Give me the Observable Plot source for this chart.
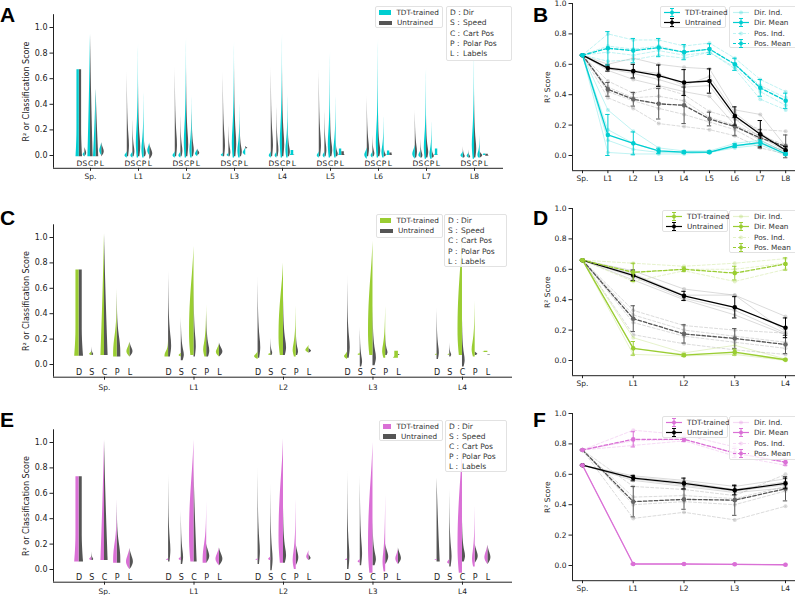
<!DOCTYPE html>
<html><head><meta charset="utf-8">
<script src="https://cdn.jsdelivr.net/npm/d3@7"></script>
<script src="https://cdn.jsdelivr.net/npm/@observablehq/plot@0.6"></script>
<style>
body{margin:0;background:#fff;font-family:"DejaVu Sans",sans-serif;}
#fig{position:relative;width:795px;height:595px;overflow:hidden;background:#fff;}
.panel{position:absolute;}
.panel svg{overflow:visible;}
.letter{position:absolute;font-weight:bold;font-size:21px;font-family:"Liberation Sans",Arial,sans-serif;line-height:1;color:#000;}
.leg{position:absolute;background:rgba(255,255,255,0.82);border:1px solid #e2e2e2;border-radius:2px;color:#333;box-sizing:border-box;white-space:nowrap;}
.leg .row{display:flex;align-items:center;}
</style></head><body><div id="fig"></div>
<script>
// ---------------- data ----------------
const layersA = ["Sp.","L1","L2","L3","L4","L5","L6","L7","L8"];
const layersCE = ["Sp.","L1","L2","L3","L4"];
const featureKeys = ["D","S","C","P","L"];
const featureNames = ["Dir","Speed","Cart Pos","Polar Pos","Labels"];

// relative violin density profiles (9 levels from low to high value)
const shapes = {
  spike: [0.5,1,0.6,0.35,0.2,0.12,0.07,0.03,0],
  wedge: [1,0.85,0.7,0.56,0.43,0.31,0.2,0.1,0],
  base:  [1,1,0.75,0.4,0.2,0.1,0.05,0.02,0],
  body:  [0.7,1,1,0.95,0.8,0.6,0.35,0.12,0],
  blob:  [0.05,0.55,0.9,1,0.85,0.6,0.35,0.15,0],
  rect:  [1.4,1.15,1,1,1,1,1,1,1]
};

// half violins: [low, high, relative width, profile] per layer, per feature D,S,C,P,L
const violinA_trained = [
  [[-0.01,0.67,0.9,"rect"],[-0.01,0.03,0.7,"blob"],[-0.01,0.95,1,"wedge"],[-0.01,0.52,1,"wedge"],[0,0.1,0.8,"blob"]],
  [[-0.02,0.03,0.9,"blob"],[-0.02,0.03,0.8,"blob"],[-0.02,0.875,1,"spike"],[-0.02,0.5,1,"spike"],[0,0.1,0.8,"blob"]],
  [[-0.02,0.03,0.9,"blob"],[-0.02,0.03,0.8,"blob"],[-0.02,0.92,1,"spike"],[-0.02,0.47,1,"spike"],[-0.01,0.05,0.9,"blob"]],
  [[-0.01,0.02,0.8,"blob"],[-0.01,0.02,0.7,"blob"],[-0.02,0.89,1,"spike"],[-0.02,0.41,1,"spike"],[0,0.06,1,"blob"]],
  [[-0.02,0.03,0.8,"blob"],[-0.02,0.03,0.7,"blob"],[-0.02,0.95,1,"spike"],[-0.02,0.48,1,"spike"],[0,0.04,1,"rect"]],
  [[-0.02,0.03,0.8,"blob"],[-0.02,0.03,0.7,"blob"],[-0.02,0.81,1,"spike"],[-0.02,0.47,1,"spike"],[0,0.05,0.9,"rect"]],
  [[-0.03,0.06,1,"blob"],[-0.02,0.03,0.7,"blob"],[-0.02,0.91,1,"spike"],[-0.02,0.31,1,"spike"],[0,0.035,0.9,"rect"]],
  [[-0.03,0.08,1,"blob"],[-0.02,0.04,0.8,"blob"],[-0.03,0.68,1,"spike"],[-0.03,0.27,1,"spike"],[0,0.05,0.9,"rect"]],
  [[-0.02,0.03,0.9,"blob"],[-0.02,0.02,0.7,"blob"],[-0.03,0.83,1,"spike"],[-0.02,0.16,1,"spike"],[0,0.012,0.8,"rect"]]
];
const violinA_untrained = [
  [[-0.01,0.67,0.9,"rect"],[-0.01,0.065,0.7,"blob"],[-0.01,0.95,1,"wedge"],[-0.01,0.52,1,"wedge"],[-0.01,0.1,1,"blob"]],
  [[-0.01,0.665,1,"spike"],[-0.01,0.30,0.9,"spike"],[-0.01,0.6,1,"spike"],[-0.01,0.2,1,"spike"],[-0.03,0.09,1.2,"blob"]],
  [[-0.01,0.70,1,"spike"],[-0.01,0.335,0.9,"spike"],[-0.01,0.72,1,"spike"],[-0.01,0.36,1,"spike"],[0,0.05,0.8,"blob"]],
  [[-0.01,0.66,1,"spike"],[-0.01,0.25,0.9,"spike"],[-0.01,0.75,1,"spike"],[-0.01,0.27,1,"spike"],[0.05,0.07,0.8,"blob"]],
  [[-0.01,0.70,1,"spike"],[-0.01,0.41,0.9,"spike"],[-0.01,0.72,1,"spike"],[-0.01,0.28,1,"spike"],[0,0.005,0.5,"blob"]],
  [[-0.01,0.68,1,"spike"],[-0.01,0.37,0.9,"spike"],[-0.01,0.37,1,"spike"],[-0.01,0.13,1,"spike"],[0,0.03,1,"rect"]],
  [[-0.01,0.47,1,"spike"],[-0.01,0.16,0.9,"spike"],[-0.01,0.35,1,"spike"],[-0.01,0.08,1,"spike"],[0,0.02,0.9,"rect"]],
  [[-0.02,0.36,1,"spike"],[-0.02,0.13,0.9,"spike"],[-0.02,0.32,1,"spike"],[-0.02,0.08,1,"spike"],[0,0.005,0.3,"blob"]],
  [[-0.02,0.07,0.9,"spike"],[-0.02,0.045,0.8,"spike"],[-0.02,0.53,1,"spike"],[-0.02,0.03,1,"blob"],[-0.005,0.01,1,"rect"]]
];
const violinC_trained = [
  [[0.065,0.745,0.7,"rect"],[0.07,0.10,0.5,"blob"],[0.07,1.03,0.8,"wedge"],[0.06,0.60,0.8,"base"],[0.06,0.175,0.7,"blob"]],
  [[0.06,0.2,0.8,"base"],[0.06,0.09,0.5,"blob"],[0.07,0.93,1,"body"],[0.06,0.47,0.8,"spike"],[0.06,0.16,0.7,"blob"]],
  [[0.04,0.10,0.8,"blob"],[0.07,0.09,0.5,"blob"],[0.07,0.80,1,"body"],[0.06,0.46,0.8,"spike"],[0.09,0.15,0.7,"blob"]],
  [[0.04,0.10,0.7,"blob"],[0.07,0.09,0.5,"blob"],[0.07,0.97,1,"body"],[0.05,0.46,0.8,"spike"],[0.05,0.105,0.8,"rect"]],
  [[0.07,0.085,0.4,"blob"],[0.07,0.085,0.4,"blob"],[0.07,1.02,1,"body"],[0.06,0.50,0.8,"spike"],[0.095,0.105,0.8,"rect"]]
];
const violinC_untrained = [
  [[0.065,0.745,0.7,"rect"],[0.07,0.14,0.5,"spike"],[0.07,1.03,0.8,"wedge"],[0.06,0.60,0.8,"base"],[0.06,0.175,0.7,"blob"]],
  [[0.06,0.735,0.8,"spike"],[0.03,0.37,0.8,"spike"],[0.06,0.70,0.6,"spike"],[0.06,0.42,0.8,"spike"],[0.06,0.17,0.8,"blob"]],
  [[0.05,0.69,0.7,"spike"],[0.07,0.21,0.5,"spike"],[0.07,0.55,0.8,"spike"],[0.07,0.30,0.6,"spike"],[0.09,0.13,0.6,"blob"]],
  [[0.05,0.70,0.7,"spike"],[-0.02,0.30,0.6,"spike"],[-0.01,0.46,0.9,"spike"],[0.07,0.25,0.6,"spike"],[0.07,0.08,0.4,"blob"]],
  [[0.04,0.45,0.6,"spike"],[0.06,0.17,0.5,"spike"],[-0.02,0.38,0.7,"spike"],[0.07,0.10,0.6,"blob"],[0.073,0.077,0.5,"rect"]]
];
const violinE_trained = [
  [[0.06,0.73,0.7,"rect"],[0.07,0.10,0.5,"blob"],[0.07,1.02,0.8,"wedge"],[0.05,0.555,0.8,"base"],[0.0,0.165,0.8,"blob"]],
  [[0.07,0.085,0.5,"blob"],[0.07,0.10,0.5,"blob"],[0.06,1.02,1,"body"],[0.05,0.54,0.8,"base"],[0.03,0.17,0.8,"blob"]],
  [[0.07,0.085,0.5,"blob"],[0.07,0.10,0.5,"blob"],[0.05,1.03,1,"body"],[0.0,0.55,0.8,"spike"],[0.07,0.15,0.5,"blob"]],
  [[0.07,0.085,0.5,"blob"],[0.05,0.08,0.5,"blob"],[-0.03,1.0,1,"body"],[-0.02,0.59,0.7,"spike"],[0.04,0.16,0.6,"blob"]],
  [[0.07,0.08,0.5,"blob"],[0.04,0.08,0.5,"blob"],[-0.03,0.98,1,"body"],[0.02,0.50,0.7,"spike"],[0.04,0.19,0.7,"blob"]]
];
const violinE_untrained = [
  [[0.06,0.73,0.7,"rect"],[0.07,0.14,0.5,"spike"],[0.07,1.02,0.8,"wedge"],[0.05,0.555,0.8,"base"],[0.0,0.165,0.8,"blob"]],
  [[0.06,0.76,0.6,"spike"],[0.04,0.47,0.6,"spike"],[0.06,0.80,0.7,"wedge"],[0.05,0.2,0.7,"blob"],[0.03,0.17,0.8,"blob"]],
  [[0.04,0.80,0.6,"spike"],[-0.01,0.67,0.6,"spike"],[0.05,0.5,0.8,"spike"],[0.03,0.2,0.6,"blob"],[0.07,0.12,0.5,"blob"]],
  [[0.0,0.79,0.6,"spike"],[0.03,0.75,0.6,"spike"],[0.03,0.40,0.9,"spike"],[0.04,0.2,0.7,"blob"],[0.04,0.17,0.7,"blob"]],
  [[0.06,0.72,0.7,"wedge"],[0.02,0.64,0.6,"spike"],[0.06,0.40,0.8,"spike"],[0.05,0.2,0.7,"blob"],[0.04,0.19,0.7,"blob"]]
];

// line panels: means and error half-widths
const B_trainedDir = [0.66,0.135,0.08,0.03,0.022,0.022,0.065,0.085,0.01];
const B_trainedDirErr = [0,0.135,0.075,0.018,0.008,0.008,0.012,0.018,0.008];
const B_trainedPos = [0.66,0.705,0.69,0.71,0.68,0.70,0.60,0.445,0.36];
const B_trainedPosErr = [0,0.11,0.08,0.06,0.05,0.035,0.04,0.055,0.05];
const B_untrainedDir = [0.66,0.575,0.555,0.525,0.48,0.49,0.26,0.14,0.035];
const B_untrainedDirErr = [0,0.02,0.045,0.07,0.085,0.08,0.06,0.09,0.025];
const B_untrainedPos = [0.66,0.435,0.37,0.34,0.33,0.24,0.19,0.115,0.06];
const B_untrainedPosErr = [0,0.045,0.045,0.1,0.12,0.045,0.06,0.055,0.075];
const B_trainedDirInd = [
  [0.66,0.30,0.16,0.05,0.03,0.03,0.08,0.10,0.02],
  [0.66,0.17,0.08,0.03,0.02,0.02,0.06,0.09,0.01],
  [0.66,0.10,0.04,0.02,0.02,0.02,0.06,0.08,0.01],
  [0.66,0.02,0.01,0.01,0.01,0.02,0.05,0.07,0.0]];
const B_trainedPosInd = [
  [0.66,0.80,0.76,0.76,0.72,0.74,0.64,0.50,0.42],
  [0.66,0.72,0.70,0.72,0.68,0.70,0.60,0.46,0.38],
  [0.66,0.68,0.66,0.69,0.66,0.68,0.58,0.42,0.33],
  [0.66,0.62,0.63,0.66,0.64,0.68,0.57,0.37,0.30]];
const B_untrainedDirInd = [
  [0.66,0.60,0.64,0.60,0.58,0.57,0.30,0.27,0.06],
  [0.66,0.58,0.56,0.54,0.46,0.52,0.28,0.15,0.04],
  [0.66,0.57,0.54,0.50,0.45,0.46,0.24,0.12,0.03],
  [0.66,0.56,0.50,0.46,0.42,0.39,0.20,0.10,0.02]];
const B_untrainedPosInd = [
  [0.66,0.49,0.41,0.45,0.40,0.29,0.24,0.17,0.16],
  [0.66,0.45,0.38,0.39,0.36,0.25,0.20,0.13,0.07],
  [0.66,0.42,0.36,0.31,0.27,0.22,0.17,0.08,0.03],
  [0.66,0.38,0.31,0.21,0.19,0.17,0.13,0.05,0.01]];

const D_trainedDir = [0.66,0.08,0.035,0.055,0.005];
const D_trainedDirErr = [0,0.045,0.008,0.02,0.005];
const D_trainedPos = [0.66,0.58,0.60,0.575,0.635];
const D_trainedPosErr = [0,0.06,0.015,0.045,0.04];
const D_untrainedDir = [0.66,0.56,0.425,0.35,0.215];
const D_untrainedDirErr = [0,0.035,0.03,0.07,0.065];
const D_untrainedPos = [0.66,0.275,0.175,0.145,0.105];
const D_untrainedPosErr = [0,0.085,0.06,0.065,0.06];
const D_trainedDirInd = [[0.66,0.15,0.05,0.10,0.01],[0.66,0.08,0.04,0.05,0.005],[0.66,0.04,0.03,0.04,0.0]];
const D_trainedPosInd = [[0.66,0.64,0.62,0.64,0.67],[0.66,0.58,0.60,0.60,0.64],[0.66,0.52,0.59,0.52,0.60]];
const D_untrainedDirInd = [[0.66,0.59,0.47,0.43,0.29],[0.66,0.57,0.43,0.43,0.19],[0.66,0.55,0.41,0.33,0.18],[0.66,0.53,0.40,0.30,0.17]];
const D_untrainedPosInd = [[0.66,0.33,0.23,0.20,0.18],[0.66,0.30,0.20,0.16,0.12],[0.66,0.25,0.16,0.12,0.08],[0.66,0.17,0.11,0.07,0.04]];

const F_trainedDir = [0.66,0.01,0.01,0.008,0.005];
const F_trainedDirErr = [0,0.004,0.003,0.003,0.002];
const F_trainedPos = [0.76,0.83,0.83,0.74,0.68];
const F_trainedPosErr = [0,0.05,0.015,0.03,0.02];
const F_untrainedDir = [0.66,0.575,0.54,0.495,0.54];
const F_untrainedDirErr = [0,0.018,0.035,0.03,0.035];
const F_untrainedPos = [0.76,0.42,0.435,0.43,0.505];
const F_untrainedPosErr = [0,0.1,0.065,0.1,0.08];
const F_trainedDirInd = [[0.66,0.012,0.01,0.01,0.006],[0.66,0.008,0.008,0.006,0.004]];
const F_trainedPosInd = [[0.76,0.89,0.86,0.78,0.70],[0.76,0.82,0.83,0.74,0.68],[0.76,0.79,0.82,0.72,0.66]];
const F_untrainedDirInd = [[0.66,0.59,0.56,0.52,0.57],[0.66,0.58,0.55,0.50,0.55],[0.66,0.57,0.53,0.49,0.53],[0.66,0.56,0.52,0.48,0.51]];
const F_untrainedPosInd = [[0.76,0.52,0.50,0.46,0.60],[0.76,0.45,0.46,0.44,0.52],[0.76,0.40,0.42,0.40,0.49],[0.76,0.31,0.35,0.30,0.39]];

const cyan = "#00CED1", green = "#9ACD32", orchid = "#DA70D6", untrainedGray = "#555555";

// ---------------- helpers ----------------
const fig = document.getElementById("fig");
function place(el, left, top){ const d=document.createElement("div"); d.className="panel"; d.style.left=left+"px"; d.style.top=top+"px"; d.appendChild(el); fig.appendChild(d); }
function letter(t, left, top){ const d=document.createElement("div"); d.className="letter"; d.textContent=t; d.style.left=left+"px"; d.style.top=top+"px"; fig.appendChild(d); }
const axisColor = "#222";

function violinPanel(o){
  const {layers, trained, untrained, color, width, height, marginLeft, marginRight, marginTop, marginBottom, xDomain, featSpacing, halfPx, letterSize, tickPad} = o;
  const pxPerUnit = (width - marginLeft - marginRight) / (xDomain[1] - xDomain[0]);
  const halfU = halfPx / pxPerUnit;
  const rows = (specs, side) => specs.flatMap((grp, gi) => grp.flatMap((spec, fi) => {
    const [lo, hi, w, shape] = spec; const prof = shapes[shape]; const c = gi + (fi - 2) * featSpacing;
    return prof.map((p, k) => ({id: `${gi}-${fi}`, y: lo + (hi - lo) * k / (prof.length - 1), x1: c, x2: c + side * w * p * halfU}));
  }));
  const letters = layers.flatMap((l, gi) => featureKeys.map((k, fi) => ({x: gi + (fi - 2) * featSpacing, t: k})));
  return Plot.plot({
    width, height, marginLeft, marginRight, marginTop, marginBottom,
    x: {domain: xDomain, axis: null},
    y: {domain: [-0.1, 1.1], axis: null},
    style: {fontFamily: "DejaVu Sans, sans-serif", color: axisColor, background: "transparent", overflow: "visible"},
    marks: [
      Plot.areaX(rows(untrained, 1), {y: "y", x1: "x1", x2: "x2", z: "id", fill: untrainedGray, curve: "basis"}),
      Plot.areaX(rows(trained, -1), {y: "y", x1: "x1", x2: "x2", z: "id", fill: color, curve: "basis"}),
      Plot.text(letters, {x: "x", y: () => -0.062, text: "t", fontSize: letterSize, fill: "#222"}),
      Plot.axisY({ticks: [0, 0.2, 0.4, 0.6, 0.8, 1.0], tickFormat: d3.format(".1f"), tickSize: 3.5, tickPadding: 2.5, fontSize: 8,
        label: "R² or Classification Score", labelAnchor: "center", labelArrow: "none", labelOffset: 30}),
      Plot.axisX({ticks: d3.range(layers.length), tickFormat: i => layers[i], tickSize: 3, tickPadding: tickPad, fontSize: 7.5, label: null}),
      Plot.ruleX([xDomain[0]], {stroke: axisColor, strokeWidth: 1}),
      Plot.ruleY([-0.1], {stroke: axisColor, strokeWidth: 1})
    ]
  });
}

function linePanel(o){
  const {layers, color, width, height, marginLeft, marginTop, marginBottom, xDomain, s} = o;
  const pxPerUnit = (width - marginLeft) / (xDomain[1] - xDomain[0]);
  const cap = 2.2 / pxPerUnit;
  const toRows = (vals, errs) => vals.map((v, i) => ({x: i, y: v, lo: v - (errs ? errs[i] : 0), hi: v + (errs ? errs[i] : 0)}));
  const ind = (arrs, stroke, op, dash) => arrs.flatMap(a => [
    Plot.line(toRows(a), {x: "x", y: "y", stroke, strokeOpacity: op, strokeWidth: 1, strokeDasharray: dash}),
    Plot.dot(toRows(a), {x: "x", y: "y", r: 2, fill: stroke, fillOpacity: op})
  ]);
  const mean = (vals, errs, stroke, dash, dotFill) => {
    const r = toRows(vals, errs);
    return [
      Plot.line(r, {x: "x", y: "y", stroke, strokeWidth: 1.3, strokeDasharray: dash}),
      Plot.ruleX(r, {x: "x", y1: "lo", y2: "hi", stroke, strokeWidth: 1}),
      Plot.ruleY(r, {y: "lo", x1: d => d.x - cap, x2: d => d.x + cap, stroke, strokeWidth: 1}),
      Plot.ruleY(r, {y: "hi", x1: d => d.x - cap, x2: d => d.x + cap, stroke, strokeWidth: 1}),
      Plot.dot(r, {x: "x", y: "y", r: 2.3, fill: dotFill || stroke})
    ];
  };
  return Plot.plot({
    width, height, marginLeft, marginRight: 0, marginTop, marginBottom,
    x: {domain: xDomain, axis: null},
    y: {domain: [-0.1, 1.0], axis: null},
    style: {fontFamily: "DejaVu Sans, sans-serif", color: axisColor, background: "transparent", overflow: "visible"},
    marks: [
      ...ind(s.uDirInd, "#888", 0.3, null),
      ...ind(s.uPosInd, "#888", 0.3, "3,2"),
      ...ind(s.tDirInd, color, 0.25, null),
      ...ind(s.tPosInd, color, 0.25, "3,2"),
      ...mean(s.uPos, s.uPosErr, "#555", "3.5,2", "#666"),
      ...mean(s.uDir, s.uDirErr, "#000", null),
      ...mean(s.tPos, s.tPosErr, color, "3.5,2"),
      ...mean(s.tDir, s.tDirErr, color, null),
      Plot.axisY({ticks: [0, 0.2, 0.4, 0.6, 0.8, 1.0], tickFormat: d3.format(".1f"), tickSize: 3.5, tickPadding: 2.5, fontSize: 7.5,
        label: "R² Score", labelAnchor: "center", labelArrow: "none", labelOffset: 28}),
      Plot.axisX({ticks: d3.range(layers.length), tickFormat: i => layers[i], tickSize: 3, tickPadding: 2, fontSize: 7.5, label: null}),
      Plot.ruleX([xDomain[0]], {stroke: axisColor}),
      Plot.ruleY([-0.1], {stroke: axisColor})
    ]
  });
}

function legendBox(left, top, w, h, fs, lh, rowsHtml, padTop){
  const d = document.createElement("div"); d.className = "leg";
  d.style.cssText += `left:${left}px;top:${top}px;width:${w}px;height:${h}px;font-size:${fs}px;padding:${padTop}px 3px 0 3px;`;
  d.innerHTML = rowsHtml.map(r => `<div class="row" style="height:${lh}px">${r}</div>`).join("");
  fig.appendChild(d);
}
const patch = c => `<span style="display:inline-block;width:13px;height:4.5px;background:${c};margin-right:5px"></span>`;
const keyRow = (k, n) => `<span style="display:inline-block;width:13px">${k} :</span>${n}`;
function lineSwatch(color, dash, err, op){
  return `<svg width="16" height="9" style="margin-right:5px;flex:none"><g stroke="${color}" stroke-opacity="${op}" fill="${color}" fill-opacity="${op}">`+
    `<line x1="0" x2="16" y1="4.5" y2="4.5" stroke-width="1.2" ${dash ? 'stroke-dasharray="3,2"' : ''}/>`+
    (err ? `<line x1="8" x2="8" y1="0.5" y2="8.5"/><line x1="6" x2="10" y1="0.5" y2="0.5"/><line x1="6" x2="10" y1="8.5" y2="8.5"/>` : "")+
    `<circle cx="8" cy="4.5" r="2" stroke="none"/></g></svg>`;
}
function violinLegends(color, x1, y, w1, h1, x2, w2, h2, lh){
  legendBox(x1, y, w1, h1, 7.3, lh, [patch(color) + "TDT-trained", patch(untrainedGray) + "Untrained"], 0.5);
  legendBox(x2, y, w2, h2, 7.5, lh, featureKeys.map((k, i) => keyRow(k, featureNames[i])), 0.5);
}
function lineLegends(color, x1, y, h1, h2, lh){
  legendBox(x1, y, 66, h1, 7.3, lh, [lineSwatch(color, false, true, 1) + "TDT-trained", lineSwatch("#000", false, true, 1) + "Untrained"], 0.5);
  legendBox(729, y, 70, h2, 7.3, lh, [
    lineSwatch(color, false, false, 0.25) + "Dir. Ind.",
    lineSwatch(color, false, true, 1) + "Dir. Mean",
    lineSwatch(color, true, false, 0.25) + "Pos. Ind.",
    lineSwatch(color, true, true, 1) + "Pos. Mean"], 0.5);
}

// ---------------- panels ----------------
place(violinPanel({layers: layersA, trained: violinA_trained, untrained: violinA_untrained, color: cyan,
  width: 515, height: 190, marginLeft: 53, marginRight: 12, marginTop: 14.2, marginBottom: 22.2,
  xDomain: [-0.771, 8.604], featSpacing: 0.117, halfPx: 2.6, letterSize: 7.5, tickPad: 2.3}), 0, 0);
place(violinPanel({layers: layersCE, trained: violinC_trained, untrained: violinC_untrained, color: green,
  width: 520, height: 200, marginLeft: 53, marginRight: 8, marginTop: 29.3, marginBottom: 18.3,
  xDomain: [-0.570, 4.559], featSpacing: 0.142, halfPx: 4.5, letterSize: 8, tickPad: 4.3}), 0, 195);
place(violinPanel({layers: layersCE, trained: violinE_trained, untrained: violinE_untrained, color: orchid,
  width: 520, height: 205, marginLeft: 53, marginRight: 8, marginTop: 39.3, marginBottom: 13.3,
  xDomain: [-0.570, 4.559], featSpacing: 0.142, halfPx: 4.5, letterSize: 8, tickPad: 3}), 0, 390);

place(linePanel({layers: layersA, color: cyan, width: 265, height: 190, marginLeft: 42, marginTop: 3, marginBottom: 19.8,
  xDomain: [-0.394, 8.386], s: {tDir: B_trainedDir, tDirErr: B_trainedDirErr, tPos: B_trainedPos, tPosErr: B_trainedPosErr,
  uDir: B_untrainedDir, uDirErr: B_untrainedDirErr, uPos: B_untrainedPos, uPosErr: B_untrainedPosErr,
  tDirInd: B_trainedDirInd, tPosInd: B_trainedPosInd, uDirInd: B_untrainedDirInd, uPosInd: B_untrainedPosInd}}), 530, 0);
place(linePanel({layers: layersCE, color: green, width: 265, height: 195, marginLeft: 42, marginTop: 13, marginBottom: 14.8,
  xDomain: [-0.197, 4.197], s: {tDir: D_trainedDir, tDirErr: D_trainedDirErr, tPos: D_trainedPos, tPosErr: D_trainedPosErr,
  uDir: D_untrainedDir, uDirErr: D_untrainedDirErr, uPos: D_untrainedPos, uPosErr: D_untrainedPosErr,
  tDirInd: D_trainedDirInd, tPosInd: D_trainedPosInd, uDirInd: D_untrainedDirInd, uPosInd: D_untrainedPosInd}}), 530, 195);
place(linePanel({layers: layersCE, color: orchid, width: 265, height: 205, marginLeft: 42, marginTop: 23, marginBottom: 14.8,
  xDomain: [-0.197, 4.197], s: {tDir: F_trainedDir, tDirErr: F_trainedDirErr, tPos: F_trainedPos, tPosErr: F_trainedPosErr,
  uDir: F_untrainedDir, uDirErr: F_untrainedDirErr, uPos: F_untrainedPos, uPosErr: F_untrainedPosErr,
  tDirInd: F_trainedDirInd, tPosInd: F_trainedPosInd, uDirInd: F_untrainedDirInd, uPosInd: F_untrainedPosInd}}), 530, 390);

// legends
violinLegends(cyan, 375, 6, 68, 22, 446, 66, 55, 10.3);
violinLegends(green, 376, 214, 67, 24, 444, 63, 53, 10.2);
violinLegends(orchid, 379, 420, 64, 21, 445, 62, 52, 9.9);
lineLegends(cyan, 660, 6, 22, 42, 10.3);
lineLegends(green, 662, 210, 22, 43, 10.3);
lineLegends(orchid, 662, 416, 22, 44, 10.3);

// panel letters
letter("A", 0, 4); letter("B", 533, 4);
letter("C", 0, 207); letter("D", 533, 207);
letter("E", 0, 409); letter("F", 533, 409);
</script></body></html>
